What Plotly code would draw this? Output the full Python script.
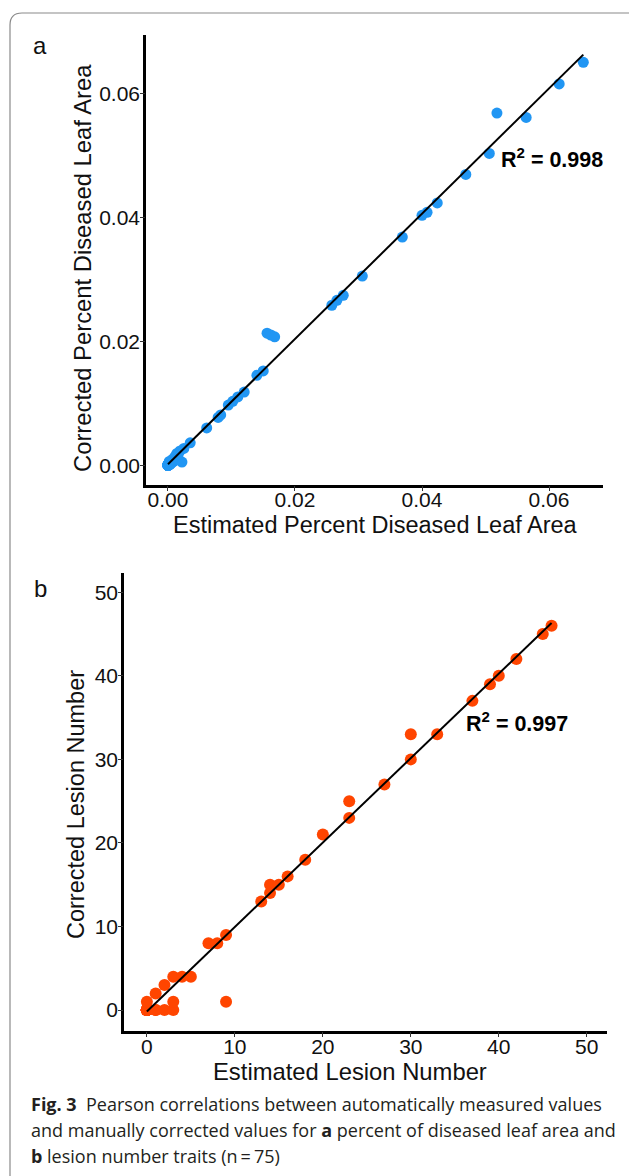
import numpy as np
import plotly.graph_objects as go

# ---------------- data ----------------
# Panel a: percent diseased leaf area (estimated vs corrected)
a_est = [0.0, 0.0, 0.0, 0.0, 0.0, 0.0, 0.0, 0.0, 0.0, 0.0,
         0.0, 0.0, 0.0, 0.0, 0.0, 0.0, 0.0, 0.0, 0.0, 0.0,
         0.0, 0.0, 0.0, 0.0, 0.0, 0.0, 0.0, 0.0, 0.0, 0.0,
         0.0001, 0.0003, 0.0004, 0.0006, 0.0002, 0.0009,
         0.0002, 0.0005, 0.0008, 0.0011, 0.0014, 0.0022, 0.0019, 0.0025,
         0.0035, 0.0061, 0.0079, 0.0083, 0.0095, 0.0102, 0.0110, 0.0120,
         0.0140, 0.0150, 0.0156, 0.0162, 0.0168, 0.0258, 0.0266, 0.0276,
         0.0306, 0.0369, 0.0400, 0.0408, 0.0424, 0.0469, 0.0506, 0.0518,
         0.0564, 0.0616, 0.0654, 0.0003, 0.0007, 0.0012, 0.0016]
a_cor = [0.0, 0.0, 0.0, 0.0, 0.0, 0.0, 0.0, 0.0, 0.0, 0.0,
         0.0, 0.0, 0.0, 0.0, 0.0, 0.0, 0.0, 0.0, 0.0, 0.0,
         0.0, 0.0, 0.0, 0.0, 0.0, 0.0, 0.0, 0.0, 0.0, 0.0,
         0.0001, 0.0001, 0.0002, 0.0004, 0.0006, 0.0006,
         0.0003, 0.0007, 0.0010, 0.0013, 0.0019, 0.0005, 0.0023, 0.0027,
         0.0036, 0.0060, 0.0077, 0.0081, 0.0097, 0.0103, 0.0110, 0.0118,
         0.0145, 0.0152, 0.0213, 0.0210, 0.0207, 0.0258, 0.0266, 0.0274,
         0.0305, 0.0368, 0.0403, 0.0408, 0.0423, 0.0469, 0.0503, 0.0568,
         0.0561, 0.0615, 0.0650, 0.0002, 0.0009, 0.0015, 0.0017]

# Panel b: lesion number (estimated vs corrected)
b_est = [0] * 41 + [0, 1, 2, 3, 3, 1, 2, 3, 4, 5, 7, 8, 9, 9, 13,
                    14, 14, 15, 16, 18, 20, 23, 23, 27, 30, 30, 33, 37, 39, 40,
                    42, 45, 46, 1]
b_cor = [0] * 41 + [1, 0, 0, 0, 1, 2, 3, 4, 4, 4, 8, 8, 9, 1, 13,
                    14, 15, 15, 16, 18, 21, 23, 25, 27, 30, 33, 33, 37, 39, 40,
                    42, 45, 46, 0]

a_r2_label = "R<sup>2</sup> = 0.998"
b_r2_label = "R<sup>2</sup> = 0.997"
a_ticks = [0.00, 0.02, 0.04, 0.06]
a_ticktext = ["0.00", "0.02", "0.04", "0.06"]
b_ticks = [0, 10, 20, 30, 40, 50]

# ---------------- layout helpers ----------------
W, H = 629, 1176
def fx(p):
    return p / W
def fy(p):
    return 1 - p / H

AXFONT = "Liberation Sans, Arial, Helvetica, sans-serif"
blue = "#2196F3"
orange = "#FF4500"

fig = go.Figure()

# panel a
fig.add_trace(go.Scatter(x=a_est, y=a_cor, mode="markers",
                         marker=dict(color=blue, size=11, line=dict(width=0)),
                         xaxis="x", yaxis="y", showlegend=False, hoverinfo="skip"))
ca = np.polyfit(a_est, a_cor, 1)
xa = np.array([min(a_est), max(a_est)])
fig.add_trace(go.Scatter(x=xa, y=np.polyval(ca, xa), mode="lines",
                         line=dict(color="black", width=2),
                         xaxis="x", yaxis="y", showlegend=False, hoverinfo="skip"))

# panel b
fig.add_trace(go.Scatter(x=b_est, y=b_cor, mode="markers",
                         marker=dict(color=orange, size=12, line=dict(width=0)),
                         xaxis="x2", yaxis="y2", showlegend=False, hoverinfo="skip"))
cb = np.polyfit(b_est, b_cor, 1)
xb = np.array([min(b_est), max(b_est)])
fig.add_trace(go.Scatter(x=xb, y=np.polyval(cb, xb), mode="lines",
                         line=dict(color="black", width=2),
                         xaxis="x2", yaxis="y2", showlegend=False, hoverinfo="skip"))

# empty traces to carry tick-mark-only overlay axes
fig.add_trace(go.Scatter(x=[None], y=[None], xaxis="x3", yaxis="y3",
                         showlegend=False, hoverinfo="skip"))
fig.add_trace(go.Scatter(x=[None], y=[None], xaxis="x4", yaxis="y4",
                         showlegend=False, hoverinfo="skip"))

label_axis = dict(showline=True, linecolor="black", linewidth=2.5,
                  ticks="", showgrid=False, zeroline=False,
                  tickfont=dict(family=AXFONT, size=21, color="#111"))
tick_axis = dict(showline=False, showticklabels=False, ticks="outside",
                 ticklen=5, tickwidth=1, tickcolor="#333",
                 showgrid=False, zeroline=False)

xa_dom = [fx(146), fx(603)]
ya_dom = [fy(485), fy(35)]
xb_dom = [fx(124), fx(607)]
yb_dom = [fy(1031), fy(573)]
xa_rng = [-0.00346, 0.0685]
ya_rng = [-0.0032, 0.0694]
xb_rng = [-2.6, 52.3]
yb_rng = [-2.5, 52.3]

fig.update_layout(
    width=W, height=H,
    margin=dict(l=0, r=0, t=0, b=0),
    paper_bgcolor="white", plot_bgcolor="white",
    xaxis=dict(domain=xa_dom, range=xa_rng, anchor="y", ticklabelstandoff=-6,
               tickvals=a_ticks, ticktext=a_ticktext, **label_axis),
    yaxis=dict(domain=ya_dom, range=ya_rng, anchor="x", ticklabelstandoff=-1,
               tickvals=a_ticks, ticktext=a_ticktext, **label_axis),
    xaxis2=dict(domain=xb_dom, range=xb_rng, anchor="y2", ticklabelstandoff=-5,
                tickvals=b_ticks, **label_axis),
    yaxis2=dict(domain=yb_dom, range=yb_rng, anchor="x2", ticklabelstandoff=-1,
                tickvals=b_ticks, **label_axis),
    xaxis3=dict(overlaying="x", domain=xa_dom, range=xa_rng, anchor="y",
                tickvals=a_ticks, **tick_axis),
    yaxis3=dict(overlaying="y", domain=ya_dom, range=ya_rng, anchor="x",
                tickvals=a_ticks, **tick_axis),
    xaxis4=dict(overlaying="x2", domain=xb_dom, range=xb_rng, anchor="y2",
                tickvals=b_ticks, **tick_axis),
    yaxis4=dict(overlaying="y2", domain=yb_dom, range=yb_rng, anchor="x2",
                tickvals=b_ticks, **tick_axis),
)

ann = []
def text(x, y, s, size, rot=0, xanchor="center", font=AXFONT, color="#111"):
    ann.append(dict(x=fx(x), y=fy(y), xref="paper", yref="paper", text=s,
                    showarrow=False, textangle=rot, xanchor=xanchor, yanchor="middle",
                    font=dict(family=font, size=size, color=color)))

# panel letters
text(40, 46, "a", 24)
text(40, 588, "b", 24)
# axis titles
text(375, 525, "Estimated Percent Diseased Leaf Area", 23.5)
text(82, 268, "Corrected Percent Diseased Leaf Area", 23.8, rot=-90)
text(350, 1071, "Estimated Lesion Number", 23.8)
text(76, 805, "Corrected Lesion Number", 23.5, rot=-90)
# R^2 labels
text(499, 158, "<b>" + a_r2_label + "</b>", 21.5, xanchor="left", color="black")
text(464, 722, "<b>" + b_r2_label + "</b>", 21.5, xanchor="left", color="black")
# caption
CAP = "Open Sans, Noto Sans, sans-serif"
capc = "#231F20"
text(29, 1104, "<b>Fig. 3</b>  Pearson correlations between automatically measured values", 18, xanchor="left", font=CAP, color=capc)
text(29, 1130, "and manually corrected values for <b>a</b> percent of diseased leaf area and", 18, xanchor="left", font=CAP, color=capc)
text(29, 1156, "<b>b</b> lesion number traits (n\u2009=\u200975)", 18, xanchor="left", font=CAP, color=capc)
fig.update_layout(annotations=ann)

# rounded frame
x0, y0, r = 10, 13, 12
path = (f"M {fx(x0)},{fy(H + 20)} L {fx(x0)},{fy(y0 + r)} "
        f"Q {fx(x0)},{fy(y0)} {fx(x0 + r)},{fy(y0)} L {fx(W + 20)},{fy(y0)}")
fig.add_shape(type="path", path=path, xref="paper", yref="paper",
              line=dict(color="#8a8a8a", width=1.2), layer="below")

fig.write_html("out.html", config={"displayModeBar": False},
               post_script="document.body.style.margin='0';")
